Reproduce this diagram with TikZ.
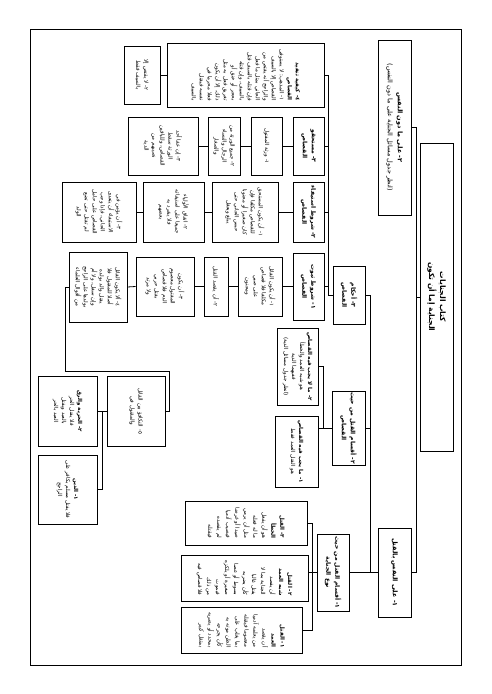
\documentclass[tikz,border=0pt]{standalone}
\usepackage{fontspec}
\newfontfamily\arabicfont[Script=Arabic]{DejaVu Sans}
\TeXXeTstate=1
\newcommand\AR[1]{\beginR #1\endR}
\newcommand\ARB[1]{\beginR{\bfseries #1}\endR}
\newcommand\mkbox[7][]{%
  \pgfmathsetmacro\bxw{#6-#4}%
  \pgfmathsetmacro\bxh{#5-#3}%
  \node[bx,#1,minimum width=\bxw pt,minimum height=\bxh pt] (#2) at ({(#3+#5)/2},{(#4+#6)/2}) {#7};}
\tikzset{
  bx/.style={draw, line width=0.8pt, rotate=-90, inner sep=1pt, align=center,
    font=\arabicfont\fontsize{5.5}{8}\selectfont},
  hd/.style={font=\arabicfont\bfseries\fontsize{6}{9}\selectfont},
  rt/.style={align=right},
  tall/.style={font=\arabicfont\fontsize{5.5}{9}\selectfont},
  ln/.style={line width=0.8pt},
}
\begin{document}
\begin{tikzpicture}[x=1pt,y=-1pt]
\useasboundingbox (0,0) rectangle (491,694);
\draw[line width=0.9pt] (30,29) rectangle (461,665);

% root level
\mkbox[hd,font=\arabicfont\bfseries\fontsize{7.5}{11}\selectfont]{root}{420}{143}{453}{451}{\AR{كتاب الجنايات}\\\AR{الجناية إما أن تكون}}
\mkbox[font=\arabicfont\fontsize{6.5}{10}\selectfont]{top2}{378}{40}{411}{215}{\ARB{٢- على ما دون النفس}\\\AR{(انظر جدول مسائل الجناية على ما دون النفس)}}
\mkbox[hd,font=\arabicfont\bfseries\fontsize{6.5}{9}\selectfont]{nafs}{378}{528}{411}{617}{\AR{١- على النفس بالقتل}}

% children of nafs
\mkbox[hd]{ahkam}{333}{266}{365}{324}{\AR{٣- أحكام}\\\AR{القصاص}}
\mkbox[hd]{aqsam}{332}{393}{365}{463}{\AR{٢- أقسام القتل من حيث}\\\AR{القصاص}}
\mkbox[hd]{naw}{317}{534}{349}{611}{\AR{١- أقسام القتل من حيث}\\\AR{نوع الجناية}}

% children of aqsam
\mkbox{yajib}{275}{416}{318}{487}{\ARB{١- ما يجب فيه القصاص}\\\AR{هو القتل العمد فقط}}
\mkbox{layajib}{277}{328}{318}{405}{\ARB{٢- ما لا يجب فيه القصاص}\\\AR{هو شبه العمد والخطأ}\\\AR{ففيهما الدية}\\\AR{(انظر جدول مسائل الدية)}}

% children of naw
\mkbox[tall,rt]{khata}{185}{501}{307}{545}{\ARB{٣- القتل}\\\ARB{الخطأ}\\\AR{هو أن يفعل}\\\AR{ما له فعله}\\\AR{مثل أن يرمي}\\\AR{صيدا أو غرضا}\\\AR{فيصيب آدميا}\\\AR{لم يقصده}\\\AR{فيقتله}}
\mkbox[tall,rt]{shibh}{181}{555}{308}{601}{\ARB{٢- القتل}\\\ARB{شبه العمد}\\\AR{أن يقصد}\\\AR{الجناية بما لا}\\\AR{يقتل غالبا}\\\AR{كأن يضربه}\\\AR{بسوط أو عصا}\\\AR{صغيرة أو يلكزه}\\\AR{فيموت}\\\AR{من ذلك}\\\AR{فلا قصاص فيه}}
\mkbox[tall,rt]{amd}{181}{607}{302}{653}{\ARB{١- القتل}\\\ARB{العمد}\\\AR{أن يقصد}\\\AR{من يعلمه آدميا}\\\AR{معصوما فيقتله}\\\AR{بما يغلب على}\\\AR{الظن موته به}\\\AR{كأن يجرحه}\\\AR{بمحدد أو يضربه}\\\AR{بمثقل كبير}}

% row 1: kayfiyya
\mkbox[rt]{k0}{167}{43}{324}{107}{\ARB{٤- كيفية تنفيذ}\\\ARB{القصاص}\\\AR{١- المذهب: لا يستوفى}\\\AR{القصاص إلا بالسيف}\\\AR{والراجح أنه يقتص من}\\\AR{الجاني بمثل ما فعل}\\\AR{فإن قتله بالسيف قتل}\\\AR{بالسيف، وإن قتله}\\\AR{بحجر أو خنق أو}\\\AR{تغريق فعل به مثل}\\\AR{ذلك، إلا أن يكون}\\\AR{فعلا محرما في}\\\AR{نفسه فيقتل}\\\AR{بالسيف}}
\mkbox{k1}{124}{46}{160}{104}{\AR{٢- لا يقتص إلا}\\\AR{بالسيف فقط}}

% row 2: mustahiqqu
\mkbox[hd]{m0}{293}{117}{324}{175}{\AR{٣- مستحقو}\\\AR{القصاص}}
\mkbox{m1}{251}{117}{282}{175}{\AR{١- ورثة المقتول}}
\mkbox{m2}{208}{117}{240}{175}{\AR{٢- جميع الورثة من}\\\AR{الرجال والنساء}\\\AR{والصغار}}
\mkbox{m3}{128}{117}{198}{175}{\AR{٣- إن عفا أحد}\\\AR{الورثة سقط}\\\AR{القصاص، وللباقين}\\\AR{نصيبهم من}\\\AR{الدية}}

% row 3: shurut istifa
\mkbox[hd]{s0}{293}{182}{324}{242}{\AR{٢- شروط استيفاء}\\\AR{القصاص}}
\mkbox{s1}{212}{182}{278}{242}{\AR{١- أن يكون المستحق}\\\AR{للقصاص مكلفا فإن}\\\AR{كان صغيرا أو مجنونا}\\\AR{حبس الجاني حتى}\\\AR{يبلغ ويعقل}}
\mkbox{s2}{143}{182}{204}{242}{\AR{٢- اتفاق الأولياء}\\\AR{جميعا على استيفائه}\\\AR{فلا ينفرد به}\\\AR{بعضهم}}
\mkbox{s3}{62}{182}{136}{242}{\AR{٣- أن يؤمن في}\\\AR{الاستيفاء أن يتعدى}\\\AR{الجاني، فإذا وجب}\\\AR{القصاص على حامل}\\\AR{لم تقتل حتى تضع}\\\AR{الولد}}

% row 4: shurut thubut
\mkbox[hd]{t0}{293}{253}{324}{320}{\AR{١- شروط ثبوت}\\\AR{القصاص}}
\mkbox{t1}{238}{257}{282}{316}{\AR{١- أن يكون القاتل}\\\AR{مكلفا فلا قصاص}\\\AR{على صبي}\\\AR{ومجنون}}
\mkbox{t2}{204}{257}{228}{316}{\AR{٢- أن يقصد القتل}}
\mkbox{t3}{136}{257}{194}{316}{\AR{٣- أن يكون}\\\AR{المقتول معصوم}\\\AR{الدم فلا قصاص}\\\AR{بقتل حربي}\\\AR{ولا مرتد}}
\mkbox{t4}{69}{252}{127}{322}{\AR{٤- ألا يكون القاتل}\\\AR{أصلا للمقتول فلا}\\\AR{يقتل والد بولده}\\\AR{وإن سفل، ولا أم}\\\AR{بولدها على الراجح}\\\AR{من أقوال العلماء}}
\mkbox{t5}{107}{376}{165}{446}{\AR{٥- التكافؤ بين القاتل}\\\AR{والمقتول في}}
\mkbox{t6}{38}{376}{97}{446}{\ARB{٢- الحرية والرق}\\\AR{فلا يقتل الحر}\\\AR{بالعبد ويقتل}\\\AR{العبد بالحر}}
\mkbox{t7}{38}{455}{97}{524}{\ARB{١- الدين}\\\AR{فلا يقتل مسلم بكافر على}\\\AR{الراجح}}

% junction coordinates
\coordinate (rT) at (416,127.5);
\coordinate (rB) at (416,572.5);
\coordinate (nT) at (370,295);
\coordinate (nB) at (370,572.5);
\coordinate (qT) at (323,366.5);
\coordinate (qB) at (323,428);
\coordinate (wT) at (312,523);
\coordinate (wB) at (312,630);
\coordinate (spT) at (328,75);
\coordinate (spB) at (328,295);
\coordinate (w1) at (65,287);
\coordinate (w2) at (65,371);
\coordinate (w3) at (169,371);
\coordinate (v2) at (102,489.5);

% connectors
\draw[ln] (top2.north) -- (rT) -- (rB) -- (nafs.north);
\draw[ln] (root.south) -- (root.south -| rT);
\draw[ln] (ahkam.north) -- (nT) -- (nB) -- (nafs.south);
\draw[ln] (naw.north) -- (naw.north -| nB);
\draw[ln] (aqsam.north) -- (aqsam.north -| nB);
\draw[ln] (aqsam.south) -- (yajib.north |- aqsam.south);
\draw[ln] (layajib.north) -- (qT) -- (qB);
\draw[ln] (khata.north) -- (wT) -- (wB) -- (amd.north);
\draw[ln] (naw.south) -- (naw.south -| shibh.north);
\draw[ln] (k0.north) -- (spT) -- (spB) -- (ahkam.south);
\draw[ln] (m0.north) -- (m0.north -| spT);
\draw[ln] (s0.north) -- (s0.north -| spT);
\draw[ln] (t0.north) -- (t0.north -| spT);
\draw[ln] (k0.south) -- (k1.north);
\draw[ln] (m0.south) -- (m1.north);
\draw[ln] (m1.south) -- (m2.north);
\draw[ln] (m2.south) -- (m3.north);
\draw[ln] (s0.south) -- (s1.north);
\draw[ln] (s1.south) -- (s2.north);
\draw[ln] (s2.south) -- (s3.north);
\draw[ln] (t0.south) -- (t1.north);
\draw[ln] (t1.south) -- (t2.north);
\draw[ln] (t2.south) -- (t3.north);
\draw[ln] (t3.south) -- (t4.north);
\draw[ln] (t4.south) -- (w1) -- (w2) -- (w3) |- (t5.north);
\draw[ln] (t5.south) -- (t6.north);
\draw[ln] (t5.south -| v2) -- (v2) -- (t7.north);
\end{tikzpicture}
\end{document}
